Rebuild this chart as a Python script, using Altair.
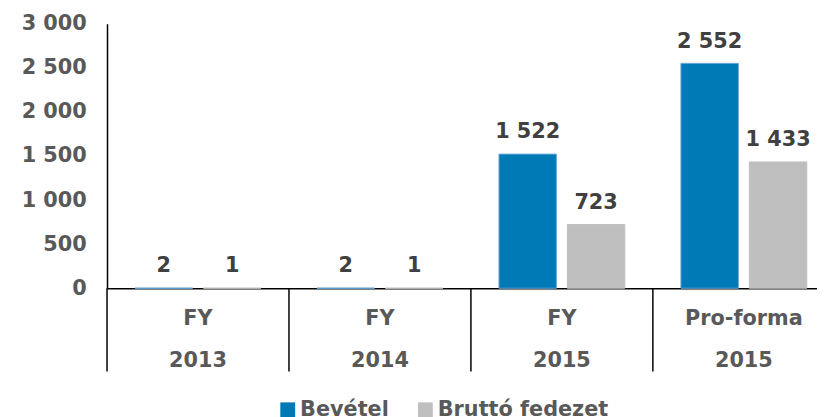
import altair as alt
import pandas as pd

categories = ["FY|2013", "FY|2014", "FY|2015", "Pro-forma|2015"]
series = ["Bevétel", "Bruttó fedezet"]
bevetel = [2, 2, 1522, 2552]
brutto = [1, 1, 723, 1433]
y_ticks = [0, 500, 1000, 1500, 2000, 2500, 3000]

rows = []
for c, b, g in zip(categories, bevetel, brutto):
    rows.append({"cat": c, "series": series[0], "value": b})
    rows.append({"cat": c, "series": series[1], "value": g})
df = pd.DataFrame(rows)
sep_df = pd.DataFrame({"cat": categories})

FONT = "DejaVu Sans"
FS = 21
W, H = 717, 267
fmt = "replace(format(datum.value, ','), ',', ' ')"

xscale = alt.Scale(domain=categories, range=[0, 735], paddingInner=0, paddingOuter=0)

x_enc = alt.X(
    "cat:N", sort=categories, scale=xscale,
    axis=alt.Axis(
        title=None, labelAngle=0, ticks=False, domainColor="black", domainWidth=1.5,
        labelExpr="split(datum.label, '|')", labelFont=FONT, labelFontSize=FS,
        labelFontWeight="bold", labelColor="#595959", labelLineHeight=42,
        labelPadding=20, labelBaseline="top",
    ),
)
y_enc = alt.Y(
    "value:Q", scale=alt.Scale(domain=[0, 3000]),
    axis=alt.Axis(
        title=None, values=y_ticks, ticks=False, grid=False, domainColor="black",
        domainWidth=1.5, labelPadding=21, labelExpr=fmt, labelFont=FONT,
        labelFontSize=FS, labelFontWeight="bold", labelColor="#595959",
    ),
)
xoff = alt.XOffset("series:N", sort=series,
                   scale=alt.Scale(paddingInner=0.16, paddingOuter=0.41))

bars = alt.Chart(df).mark_bar(strokeWidth=1).encode(
    x=x_enc, y=y_enc, xOffset=xoff,
    color=alt.Color(
        "series:N", sort=series,
        scale=alt.Scale(domain=series, range=["#0079B7", "#BFBFBF"]),
        legend=alt.Legend(
            title=None, orient="none", direction="horizontal", legendX=172, legendY=379,
            symbolType="square", symbolSize=225, symbolStrokeWidth=0,
            labelFont=FONT, labelFontSize=FS, labelFontWeight="bold",
            labelColor="#595959", labelOffset=2, columnPadding=26, labelLimit=400,
        ),
    ),
    stroke=alt.Stroke("series:N", sort=series,
                      scale=alt.Scale(domain=series, range=["#6AA9DA", "#BFBFBF"]),
                      legend=None),
)

labels = alt.Chart(df).transform_calculate(lbl=fmt).mark_text(
    font=FONT, fontSize=FS, fontWeight="bold", color="#404040",
    baseline="alphabetic", dy=-16,
).encode(x=alt.X("cat:N", sort=categories, scale=xscale), y="value:Q",
         xOffset=xoff, text="lbl:N")

seps = alt.Chart(sep_df).mark_rule(color="black", strokeWidth=1.5).encode(
    x=alt.X("cat:N", sort=categories, scale=xscale, bandPosition=0),
    y=alt.value(H), y2=alt.value(H + 84),
)

chart = alt.layer(bars, labels, seps).properties(
    width=W, height=H,
    autosize=alt.AutoSizeParams(type="none"),
    padding={"left": 100, "top": 14, "right": 0, "bottom": 128},
).configure_view(stroke=None)

chart.save("out.html", embed_options={"renderer": "svg", "actions": False})
